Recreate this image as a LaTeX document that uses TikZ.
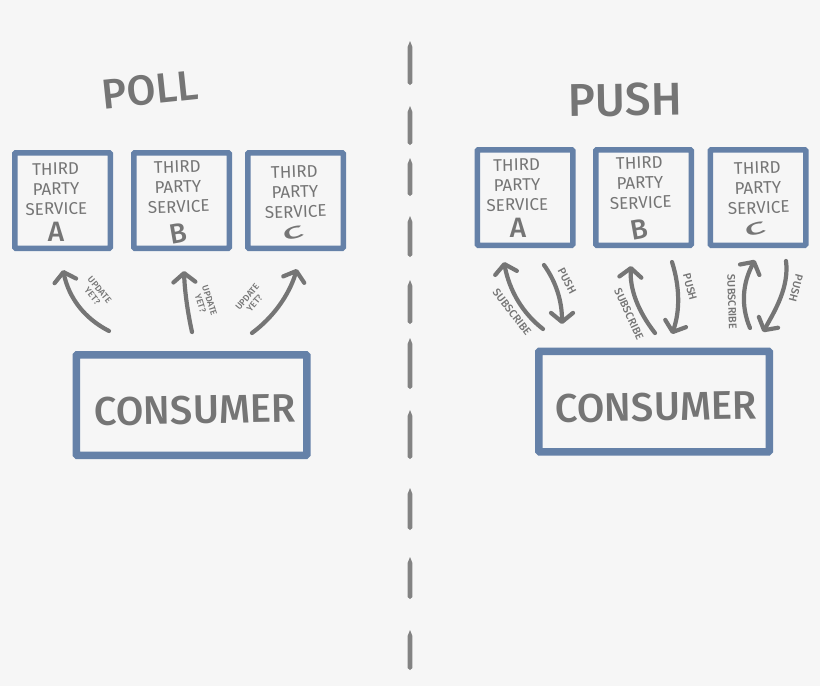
\documentclass[tikz,border=0pt]{standalone}
\usepackage{fontspec}
\setmainfont{Fira Sans}
\newfontfamily\firamed{Fira Sans Medium}
\usetikzlibrary{arrows.meta}
\definecolor{pagebg}{HTML}{F6F6F6}
\definecolor{boxblue}{HTML}{6581A8}
\definecolor{ink}{HTML}{757575}
\tikzset{
  svcbox/.style={draw=boxblue,line width=5.5pt,rounded corners=1pt,minimum width=95.5pt,minimum height=95.5pt,inner sep=0pt},
  conbox/.style={draw=boxblue,line width=7.5pt,rounded corners=1pt,minimum width=230.5pt,minimum height=100.5pt,inner sep=0pt},
  svctext/.style={text=ink,align=center,inner sep=0pt,font=\fontsize{17}{20}\selectfont},
  letter/.style={text=ink,inner sep=0pt,font=\fontsize{28}{28}\selectfont\firamed},
  contitle/.style={text=ink,inner sep=0pt,font=\fontsize{40}{40}\selectfont\firamed},
  headline/.style={text=ink,inner sep=0pt,font=\fontsize{42}{42}\selectfont\firamed},
  small/.style={text=ink,inner sep=0pt,align=center,font=\fontsize{9}{9.5}\selectfont\firamed},
  smallb/.style={small,font=\fontsize{11}{11}\selectfont\firamed},
  arrowline/.style={draw=ink,line width=4.2pt,line cap=round,-{Straight Barb[length=9pt,width=22pt,round]}},
  dashfill/.style={fill=ink!90}
}
\begin{document}
\begin{tikzpicture}[x=1pt,y=-1pt]
\useasboundingbox (0,0) rectangle (820,686);
\fill[pagebg] (0,0) rectangle (820,686);
% centre divider
\foreach \a/\b in {41/85,106/145,158/196,216/257,280/324,338/389,410/459,488/530,557/599,630/670}
  \fill[dashfill] (410,\a) -- (412.4,{\a+6}) -- (412.4,{\b-2}) -- (410,\b) -- (407.6,{\b-2}) -- (407.6,{\a+6}) -- cycle;
% titles
\node[headline,rotate=6] (pollt) at (150,90) {POLL};
\node[headline,rotate=1,font=\fontsize{46}{46}\selectfont\firamed] (pusht) at (625,100) {PUSH};
% poll side boxes
\node[svcbox] (pa) at (62.5,200.5) {};
\node[svcbox] (pb) at (181.5,200.5) {};
\node[svcbox] (pc) at (295.5,200.5) {};
\node[conbox] (pcon) at (191.5,405) {};
\node[svctext,rotate=1] (pat) at (56,189) {THIRD\\PARTY\\SERVICE};
\node[svctext,rotate=2] (pbt) at (178,187) {THIRD\\PARTY\\SERVICE};
\node[svctext,rotate=2] (pct) at (295,192) {THIRD\\PARTY\\SERVICE};
\node[letter] (pal) at (56,232) {A};
\node[letter,rotate=10] (pbl) at (178,233) {B};
\node[letter,rotate=15,xscale=1.3,yscale=.6] (pcl) at (293,233) {C};
\node[contitle,rotate=1] (pcont) at (195,410) {CONSUMER};
% push side boxes
\node[svcbox] (qa) at (525,197.5) {};
\node[svcbox] (qb) at (643.5,197.5) {};
\node[svcbox] (qc) at (758,197.5) {};
\node[conbox] (qcon) at (654,401.5) {};
\node[svctext,rotate=1] (qat) at (517,185) {THIRD\\PARTY\\SERVICE};
\node[svctext,rotate=2] (qbt) at (640,183) {THIRD\\PARTY\\SERVICE};
\node[svctext,rotate=2] (qct) at (758,188) {THIRD\\PARTY\\SERVICE};
\node[letter] (qal) at (518,228) {A};
\node[letter,rotate=10] (qbl) at (639,229) {B};
\node[letter,rotate=15,xscale=1.3,yscale=.6] (qcl) at (755,229) {C};
\node[contitle,rotate=1] (qcont) at (656,407) {CONSUMER};
% connector ends
\coordinate (pa0) at (109,331); \coordinate (pa1) at (63,270);
\coordinate (pb0) at (192,332); \coordinate (pb1) at (184,271);
\coordinate (pc0) at (252,333); \coordinate (pc1) at (297,269);
\coordinate (qa0) at (543,329); \coordinate (qa1) at (504,262);
\coordinate (qa2) at (544,265); \coordinate (qa3) at (562,324);
\coordinate (qb0) at (655,333); \coordinate (qb1) at (631,266);
\coordinate (qb2) at (672,262); \coordinate (qb3) at (672,334);
\coordinate (qc0) at (750,328); \coordinate (qc1) at (755,260);
\coordinate (qc2) at (786,261); \coordinate (qc3) at (763,332);
% connectors
\draw[arrowline] (pa0) .. controls (84.3,318.3) and (69,298) .. (pa1);
\draw[arrowline] (pb0) .. controls (187.3,310.7) and (184.7,290.3) .. (pb1);
\draw[arrowline] (pc0) .. controls (272.7,317.7) and (288.7,296) .. (pc1);
\draw[arrowline] (qa0) .. controls (522.3,313) and (509.3,290.3) .. (qa1);
\draw[arrowline] (qa2) .. controls (556,281.7) and (562,301) .. (qa3);
\draw[arrowline] (qb0) .. controls (637.7,311) and (629.7,288.7) .. (qb1);
\draw[arrowline] (qb2) .. controls (680,287.3) and (680,311) .. (qb3);
\draw[arrowline] (qc0) .. controls (740.7,306) and (742.3,283.3) .. (qc1);
\draw[arrowline] (qc2) .. controls (789.3,287) and (775,310.7) .. (qc3);
% connector labels
\node[small,rotate=-50] (la) at (96,293) {UPDATE\\YET?};
\node[small,rotate=-72] (lb) at (205,302) {UPDATE\\YET?};
\node[small,rotate=50] (lc) at (251,300) {UPDATE\\YET?};
\node[smallb,rotate=-52] (ma) at (512,312) {SUBSCRIBE};
\node[smallb,rotate=-62] (na) at (567,281) {PUSH};
\node[smallb,rotate=-65] (mb) at (629,314) {SUBSCRIBE};
\node[smallb,rotate=-75] (nb) at (690,287) {PUSH};
\node[smallb,rotate=-88] (mc) at (732,302) {SUBSCRIBE};
\node[smallb,rotate=-105] (nc) at (796,288) {PUSH};
\end{tikzpicture}
\end{document}
